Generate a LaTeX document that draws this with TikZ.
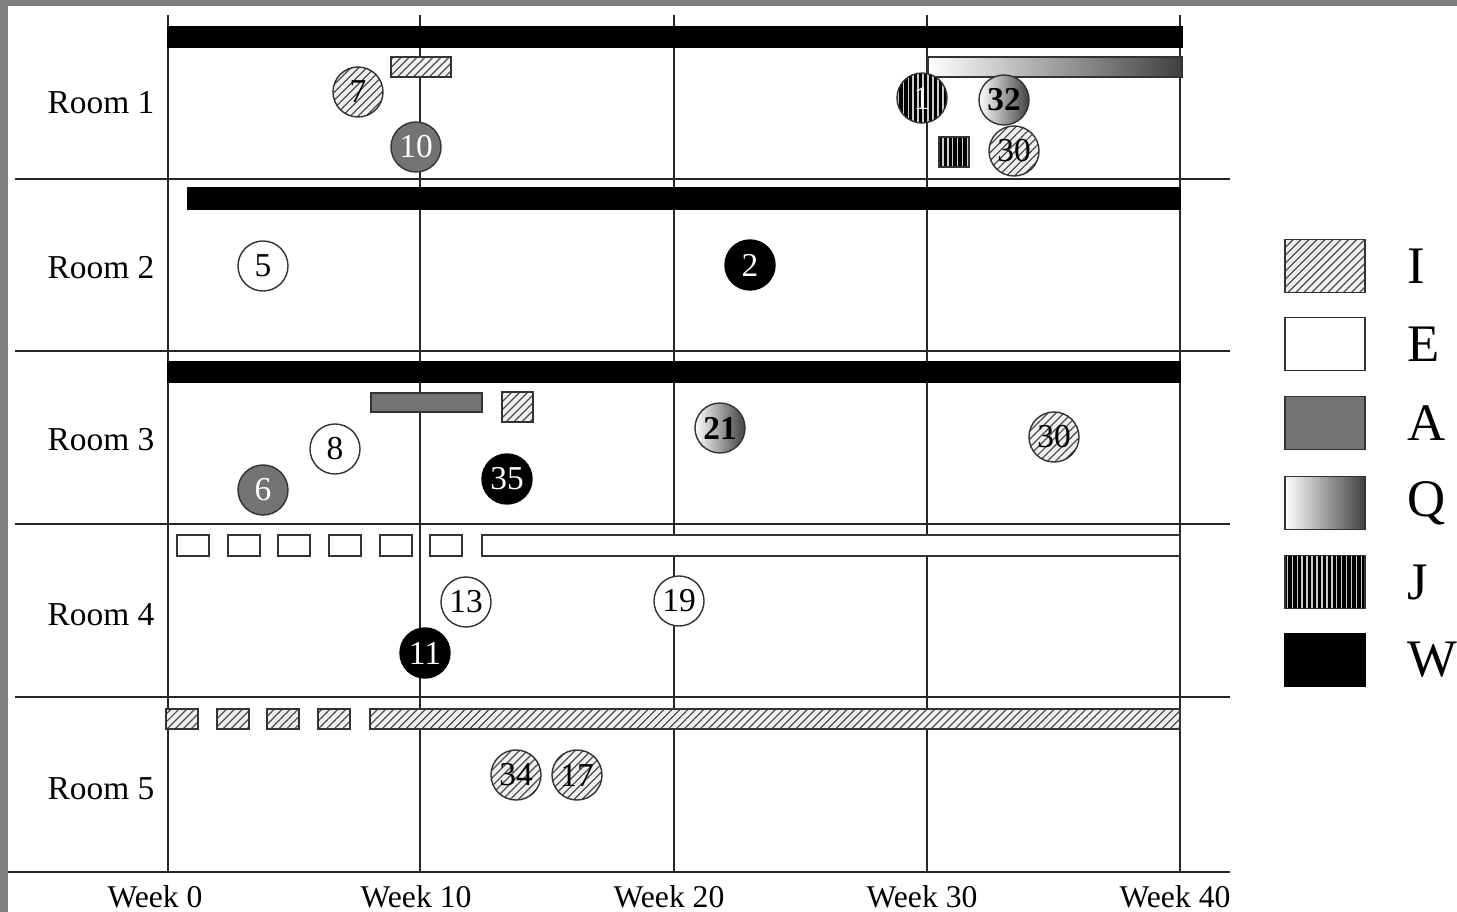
\documentclass[tikz,border=0pt]{standalone}
\usepackage{fontspec}
\setmainfont{Liberation Serif}
\usetikzlibrary{patterns.meta}

\begin{document}
\begin{tikzpicture}[x=0.01cm, y=-0.01cm,
    grid/.style={draw=black!85, line width=0.45pt},
    roomlabel/.style={font=\fontsize{9.5}{11}\selectfont},
    weeklabel/.style={font=\fontsize{9}{11}\selectfont},
    legendlabel/.style={font=\fontsize{15}{18}\selectfont, anchor=west, inner sep=0pt},
    key/.style={minimum width=0.8cm, minimum height=0.53cm, inner sep=0pt},
    bubble/.style={circle, minimum size=0.5cm, inner sep=0pt, font=\fontsize{9.5}{11}\selectfont},
    boldnum/.style={font=\fontsize{9.5}{11}\selectfont\bfseries},
    actI/.style={draw=black!80, preaction={fill=gray!12}, pattern={Lines[angle=45, distance=1.6pt, line width=0.35pt]}, pattern color=black!70},
    actE/.style={draw=black!80, fill=white},
    actA/.style={draw=black!80, fill=black!55},
    actQ/.style={draw=black!80, left color=white, right color=black!75},
    actJ/.style={draw=black!80, preaction={fill=gray!40}, pattern={Lines[angle=90, distance=1.4pt, line width=0.95pt]}},
    actW/.style={draw, fill=black}]
    \useasboundingbox (0,0) rectangle (1457,912);
    \fill[gray] (0,0) rectangle (1457,912);
    \fill[white] (8,6) rectangle (1457,912);

    % grid
    \foreach \x in {168,420,674,927,1180}
        \draw[grid] (\x,15) -- (\x,872);
    \foreach \y in {179,351,524,697}
        \draw[grid] (15,\y) -- (1230,\y);
    \draw[grid, line width=0.7pt] (8,872) -- (1230,872);

    \foreach \i/\y in {1/103,2/268,3/440,4/615,5/789}
        \node[roomlabel] (room\i) at (101,\y) {Room \i};
    \foreach \w/\x in {0/155,10/416,20/669,30/922,40/1175}
        \node[weeklabel] (wk\w) at (\x,897) {Week \w};

    % Room 1
    \draw[actW] (168,27) rectangle (1182,47);
    \draw[actI] (391,57) rectangle (451,77);
    \draw[actQ] (928,57) rectangle (1182,77);
    \draw[actJ] (939,137) rectangle (969,167);
    \node[bubble, actI] (c7) at (358,92) {7};
    \node[bubble, actA, text=white] (c10) at (416,147) {10};
    \node[bubble, actJ, text=white] (c1) at (922,98) {1};
    \node[bubble, actQ, boldnum] (c32) at (1004,100) {32};
    \node[bubble, actI] (c30a) at (1014,151) {30};

    % Room 2
    \draw[actW] (188,188) rectangle (1180,209);
    \node[bubble, actE] (c5) at (263,266) {5};
    \node[bubble, actW, text=white] (c2) at (750,265) {2};

    % Room 3
    \draw[actW] (168,362) rectangle (1180,382);
    \draw[actA] (371,393) rectangle (482,412);
    \draw[actI] (502,392) rectangle (533,422);
    \node[bubble, actE] (c8) at (335,449) {8};
    \node[bubble, actA, text=white] (c6) at (263,490) {6};
    \node[bubble, actW, text=white] (c35) at (507,479) {35};
    \node[bubble, actQ, boldnum] (c21) at (720,428) {21};
    \node[bubble, actI] (c30b) at (1054,437) {30};

    % Room 4
    \foreach \x in {177,228,278,329,380,430}
        \draw[actE] (\x,535) rectangle ++(32,21);
    \draw[actE] (482,535) rectangle (1180,556);
    \node[bubble, actE] (c13) at (466,602) {13};
    \node[bubble, actE] (c19) at (679,601) {19};
    \node[bubble, actW, text=white] (c11) at (425,653) {11};

    % Room 5
    \foreach \x in {166,217,267,318}
        \draw[actI] (\x,709) rectangle ++(32,20);
    \draw[actI] (370,709) rectangle (1180,729);
    \node[bubble, actI] (c34) at (516,775) {34};
    \node[bubble, actI] (c17) at (577,775) {17};

    % legend
    \foreach \a/\y in {I/266,E/344,A/423,Q/503,J/582,W/660} {
        \node[key, act\a] (key\a) at (1325,\y) {};
        \node[legendlabel] (lab\a) at (1407,\y) {\a};
    }
\end{tikzpicture}
\end{document}
